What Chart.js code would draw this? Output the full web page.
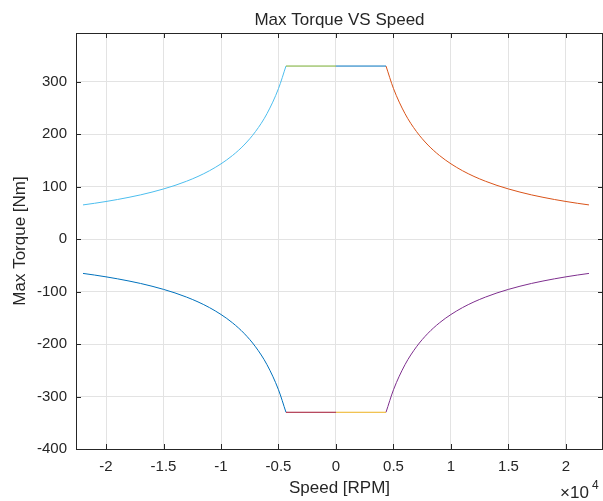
<!DOCTYPE html>
<html lang="en">
<head>
  <meta charset="UTF-8">
  <title>Max Torque VS Speed</title>
  <script src="https://cdn.jsdelivr.net/npm/chart.js"></script>
  <style>
    html, body { margin: 0; padding: 0; background: #fff; }
    #wrap { width: 603px; height: 501px; }
  </style>
</head>
<body>
  <div id="wrap"><canvas id="myChart" width="603" height="501"></canvas></div>

  <script>
    // values
    const baseSpeed = 4350;   // RPM, end of the flat part
    const maxTorque = 330;    // Nm
    const fwSpeed  = [4350, 5000, 6000, 7000, 8000, 9000, 10000, 11000, 12000, 13000, 14000,
                      15000, 16000, 17000, 18000, 19000, 20000, 21000, 22000];
    const fwTorque = [330, 287.1, 239.3, 205.1, 179.4, 159.5, 143.6, 130.5, 119.6, 110.4, 102.5,
                      95.7, 89.7, 84.4, 79.8, 75.6, 71.8, 68.4, 65.3];
    const xTicks = [-20000, -15000, -10000, -5000, 0, 5000, 10000, 15000, 20000];
    const yTicks = [-400, -300, -200, -100, 0, 100, 200, 300];

    const ink = '#262626';
    const font = 'Liberation Sans, Arial, sans-serif';

    const pts = (xs, ys, sx, sy) => xs.map((x, i) => ({ x: sx * x, y: sy * ys[i] }));
    const flat = (sx, sy) => [{ x: 0, y: sy * maxTorque }, { x: sx * baseSpeed, y: sy * maxTorque }];

    // same order as the plot calls, MATLAB default colours
    const series = [
      { data: flat(1, 1),                        color: '#0072BD' },
      { data: pts(fwSpeed, fwTorque, 1, 1),      color: '#D95319' },
      { data: flat(1, -1),                       color: '#EDB120' },
      { data: pts(fwSpeed, fwTorque, 1, -1),     color: '#7E2F8E' },
      { data: flat(-1, 1),                       color: '#77AC30' },
      { data: pts(fwSpeed, fwTorque, -1, 1),     color: '#4DBEEE' },
      { data: flat(-1, -1),                      color: '#A2142F' },
      { data: pts(fwSpeed, fwTorque, -1, -1),    color: '#0072BD' }
    ];

    // title, box, inward ticks and the x10^4 exponent
    const matlabLook = {
      id: 'matlabLook',
      afterDraw(chart) {
        const c = chart.ctx;
        const a = chart.chartArea;
        const xs = chart.scales.x, ys = chart.scales.y;
        c.save();
        c.strokeStyle = ink;
        c.lineWidth = 1;
        c.beginPath();
        c.moveTo(a.left, a.top + 0.5); c.lineTo(a.right, a.top + 0.5);
        c.moveTo(a.right - 0.5, a.top); c.lineTo(a.right - 0.5, a.bottom);
        const t = 5;
        xTicks.forEach(v => {
          const px = Math.round(xs.getPixelForValue(v)) + 0.5;
          c.moveTo(px, a.bottom); c.lineTo(px, a.bottom - t);
          c.moveTo(px, a.top); c.lineTo(px, a.top + t);
        });
        yTicks.forEach(v => {
          const py = Math.round(ys.getPixelForValue(v)) + 0.5;
          c.moveTo(a.left, py); c.lineTo(a.left + t, py);
          c.moveTo(a.right, py); c.lineTo(a.right - t, py);
        });
        c.stroke();

        c.fillStyle = ink;
        c.textAlign = 'center';
        c.textBaseline = 'alphabetic';
        c.font = '17px ' + font;
        c.fillText('Max Torque VS Speed', (a.left + a.right) / 2, 25);

        c.textAlign = 'left';
        c.font = '17px ' + font;
        c.fillText('\u00d710', 560, 498);
        c.font = '12px ' + font;
        c.fillText('4', 592, 489);
        c.restore();
      }
    };

    const ctx = document.getElementById('myChart').getContext('2d');
    const chart = new Chart(ctx, {
      type: 'line',
      data: {
        datasets: series.map(s => ({
          data: s.data,
          borderColor: s.color,
          borderWidth: 1,
          pointRadius: 0,
          fill: false,
          cubicInterpolationMode: 'monotone'
        }))
      },
      options: {
        responsive: false,
        animation: false,
        layout: { padding: { top: 33, right: 0, left: 0, bottom: 0 } },
        plugins: { legend: { display: false }, title: { display: false }, tooltip: { enabled: false } },
        scales: {
          x: {
            type: 'linear',
            min: -22610,
            max: 23220,
            afterBuildTicks: s => { s.ticks = xTicks.map(v => ({ value: v })); },
            afterFit: s => { s.height = 52; },
            grid: { color: '#e3e3e3', drawTicks: false },
            border: { color: ink },
            ticks: {
              color: ink, padding: 9, font: { family: font, size: 15 },
              callback: v => String(v / 10000)
            },
            title: { display: true, text: 'Speed [RPM]', color: ink, font: { family: font, size: 17 }, padding: { top: 0, bottom: 2 } }
          },
          y: {
            type: 'linear',
            min: -400,
            max: 393,
            afterBuildTicks: s => { s.ticks = yTicks.map(v => ({ value: v })); },
            afterFit: s => { s.width = 76; },
            grid: { color: '#e3e3e3', drawTicks: false },
            border: { color: ink },
            ticks: { color: ink, padding: 9, font: { family: font, size: 15 } },
            title: { display: true, text: 'Max Torque [Nm]', color: ink, font: { family: font, size: 17 }, padding: { top: 10, bottom: 0 } }
          }
        }
      },
      plugins: [matlabLook]
    });
  </script>
</body>
</html>
